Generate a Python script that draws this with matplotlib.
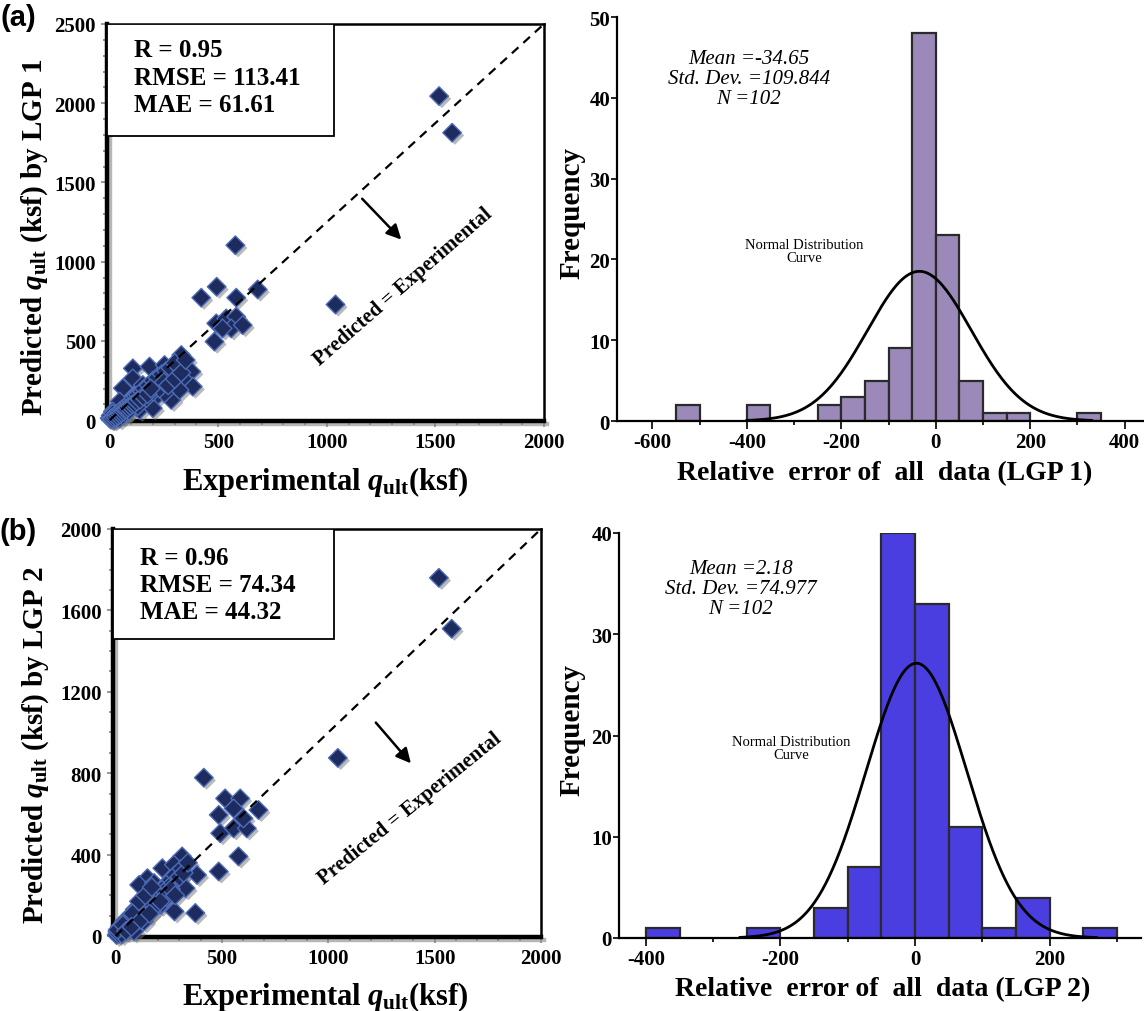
import numpy as np
import matplotlib
matplotlib.use('Agg')
import matplotlib.pyplot as plt
import matplotlib.patheffects as pe
from matplotlib.patches import Rectangle
from matplotlib.ticker import MultipleLocator

plt.rcParams['font.family'] = 'Liberation Serif'
plt.rcParams['axes.unicode_minus'] = False
plt.rcParams['mathtext.fontset'] = 'custom'
plt.rcParams['mathtext.rm'] = 'Liberation Serif:bold'
plt.rcParams['mathtext.it'] = 'Liberation Serif:italic:bold'
plt.rcParams['mathtext.bf'] = 'Liberation Serif:bold'

# ---------------- data ----------------
# LGP 1 : experimental vs predicted (ksf)
exp_1 = [1517, 1577, 1040,
         579, 493, 422, 583, 682, 491, 537, 583, 560, 613, 483, 520,
         107, 184, 253, 330, 376, 383, 107, 61, 153, 222, 284, 337, 215, 284,
         169, 107, 46, 322, 253, 138, 199, 84, 15, 0, 46,
         10, 20, 30, 40, 50, 60, 70, 80, 90, 100, 110, 120, 130, 150, 160, 180,
         200, 220, 240, 260, 280, 300,
         60, 90, 130, 170, 200, 230, 250, 270, 300, 330, 350, 20, 35, 5, 15, 25,
         5, 8, 12, 18, 25, 28, 33, 38, 45, 48, 55, 65, 72, 78, 85, 95, 105, 115,
         125, 140, 155, 175, 190]
pred_1 = [2045, 1814, 730,
          1104, 842, 773, 773, 825, 611, 642, 653, 579, 600, 496, 579,
          327, 338, 348, 411, 307, 212, 264, 202, 222, 222, 244, 264, 149, 128,
          118, 128, 118, 191, 170, 65, 76, 55, 55, 13, 13,
          10, 25, 35, 45, 60, 70, 80, 95, 110, 120, 140, 150, 160, 180, 200, 220,
          250, 270, 290, 310, 330, 360,
          30, 60, 90, 140, 180, 200, 240, 220, 260, 300, 380, 5, 20, 30, 40, 15,
          5, 12, 8, 18, 30, 22, 40, 30, 50, 38, 48, 55, 65, 70, 80, 90, 100, 105,
          120, 130, 150, 165, 200]

# LGP 2 : experimental vs predicted (ksf)
exp_2 = [1520, 1580, 1045,
         415, 515, 586, 485, 555, 672, 492, 555, 617, 601, 578, 485, 375, 277,
         383, 313, 150, 220, 274, 111, 181, 243, 290, 196, 251, 329, 150, 212,
         103, 72, 134, 41, 9, 87,
         5, 10, 15, 20, 25, 30, 35, 40, 45, 50, 55, 60, 65, 70, 75, 80, 90, 95,
         100, 110, 120, 130, 140, 150, 160, 170, 180, 190, 200, 210, 220, 230,
         240, 250, 260, 270, 280, 300, 310, 320, 340,
         30, 60, 100, 130, 170, 200, 240, 260, 280, 60, 90, 110, 140, 170,
         20, 45, 80, 10, 35, 50, 75, 120, 160, 210]
pred_2 = [1760, 1510, 875,
          778, 676, 676, 595, 627, 619, 505, 529, 529, 578, 391, 317, 113, 121,
          300, 391, 284, 333, 350, 251, 260, 260, 284, 202, 202, 235, 170, 153,
          137, 104, 72, 72, 23, 23,
          5, 15, 10, 25, 20, 35, 30, 45, 40, 55, 50, 65, 60, 75, 70, 85, 95, 90,
          110, 100, 125, 120, 150, 140, 170, 160, 190, 180, 210, 200, 230, 220,
          250, 240, 275, 260, 300, 290, 330, 310, 360,
          10, 40, 70, 95, 120, 160, 190, 230, 200, 90, 130, 170, 200, 240,
          45, 75, 110, 30, 55, 25, 45, 80, 110, 170]

stats_1 = ['R = 0.95', 'RMSE = 113.41', 'MAE = 61.61']
stats_2 = ['R = 0.96', 'RMSE = 74.34', 'MAE = 44.32']

# histograms of relative error, bin width 50
bin_w = 50
bins_1 = [-550, -400, -250, -200, -150, -100, -50, 0, 50, 100, 150, 300]
freq_1 = [2, 2, 2, 3, 5, 9, 48, 23, 5, 1, 1, 1]
bins_2 = [-400, -250, -150, -100, -50, 0, 50, 100, 150, 250]
freq_2 = [1, 1, 3, 7, 40, 33, 11, 1, 4, 1]
mean_1, std_1, n_1 = -34.65, 109.844, 102
mean_2, std_2, n_2 = 2.18, 74.977, 102

W, H = 1144, 1012
fig = plt.figure(figsize=(W / 100, H / 100), dpi=100)


def fig_rect(l, t, r, b):
    return [l / W, 1 - b / H, (r - l) / W, (b - t) / H]


def scatter_panel(rect, xs, ys, ymax, ytick, stats, box_w, box_b, text_y, label,
                  arrow, txt_xy, txt_rot, ylab_xy, xlab_xy):
    ax = fig.add_axes(rect)
    sc = ax.scatter(xs, ys, marker='D', s=90, facecolor='#1d2b5e',
                    edgecolor='#4d6cb5', linewidth=1.0, zorder=3, clip_on=False)
    sc.set_path_effects([pe.SimplePatchShadow(offset=(2, -2), shadow_rgbFace='#777777', alpha=0.5),
                         pe.Normal()])
    ax.plot([0, 2000], [0, ymax], ls=(0, (4, 3)), color='black', lw=1.6, zorder=4)
    ax.set_xlim(-12, 2000)
    ax.set_ylim(-5, ymax)
    ax.xaxis.set_major_locator(MultipleLocator(500))
    ax.xaxis.set_minor_locator(MultipleLocator(100))
    ax.yaxis.set_major_locator(MultipleLocator(ytick))
    ax.yaxis.set_minor_locator(MultipleLocator(100))
    ax.tick_params(which='both', direction='out', color='#888888', width=1.2)
    ax.tick_params(which='major', length=4, labelsize=15, pad=4)
    ax.tick_params(which='minor', length=3)
    for t in ax.get_xticklabels() + ax.get_yticklabels():
        t.set_fontweight('bold')
    for s in ['left', 'bottom']:
        ax.spines[s].set_linewidth(3.2)
        ax.spines[s].set_path_effects([pe.SimpleLineShadow(offset=(2, -2), shadow_color='#888888', alpha=0.6),
                                       pe.Normal()])
    for s in ['top', 'right']:
        ax.spines[s].set_linewidth(1.8)
    ax.add_patch(Rectangle((0, box_b), box_w, 1 - box_b, transform=ax.transAxes,
                           facecolor='white', edgecolor='black', lw=1.3, zorder=5))
    for s, ty in zip(stats, text_y):
        ax.text(0.062, ty, s, transform=ax.transAxes, fontsize=18, fontweight='bold',
                va='center', ha='left', zorder=6)
    ax.annotate('', xy=arrow[1], xytext=arrow[0],
                arrowprops=dict(arrowstyle='-|>', color='black', lw=1.8,
                                mutation_scale=22), zorder=6)
    ax.text(txt_xy[0], txt_xy[1], 'Predicted = Experimental', rotation=txt_rot,
            fontsize=15, fontweight='bold', ha='center', va='center', zorder=6)
    ax.set_ylabel(r'Predicted $q_{\mathbf{ult}}$ (ksf) by ' + label,
                  fontsize=21, fontweight='bold')
    ax.yaxis.set_label_coords(*ylab_xy)
    ax.set_xlabel(r'Experimental $q_{\mathbf{ult}}$(ksf)', fontsize=22, fontweight='bold')
    ax.xaxis.set_label_coords(*xlab_xy)
    return ax


def hist_panel(rect, lefts, freqs, mean, std, n, color, xlim, ylim, xcurve,
               stats_xy, norm_xy, label, ylab_xy, xlab_xy):
    ax = fig.add_axes(rect)
    ax.bar(lefts, freqs, width=bin_w, align='edge', color=color,
           edgecolor='#2a2a2a', linewidth=1.6, zorder=2)
    xc = np.linspace(xcurve[0], xcurve[1], 400)
    yc = n * bin_w / (std * np.sqrt(2 * np.pi)) * np.exp(-0.5 * ((xc - mean) / std) ** 2)
    ax.plot(xc, yc, color='black', lw=2.0, zorder=3)
    ax.set_xlim(*xlim)
    ax.set_ylim(*ylim)
    ax.xaxis.set_major_locator(MultipleLocator(200))
    ax.xaxis.set_minor_locator(MultipleLocator(100))
    ax.yaxis.set_major_locator(MultipleLocator(10))
    for s in ['top', 'right']:
        ax.spines[s].set_visible(False)
    for s in ['left', 'bottom']:
        ax.spines[s].set_linewidth(1.6)
        ax.spines[s].set_zorder(4)
    ax.tick_params(which='both', direction='out', width=1.4, color='#222222')
    ax.tick_params(axis='x', which='major', length=6, labelsize=15, pad=2)
    ax.tick_params(axis='y', which='major', length=4, labelsize=15, pad=1)
    ax.tick_params(which='minor', length=3)
    for t in ax.get_xticklabels() + ax.get_yticklabels():
        t.set_fontweight('bold')
    ax.text(stats_xy[0], stats_xy[1],
            'Mean =%s\nStd. Dev. =%s\nN =%d' % (('%.2f' % mean), ('%.3f' % std), n),
            transform=ax.transAxes, fontsize=15, style='italic', ha='center',
            va='top', linespacing=1.05)
    ax.text(norm_xy[0], norm_xy[1], 'Normal Distribution\nCurve', transform=ax.transAxes,
            fontsize=10.5, ha='center', va='center', linespacing=1.0)
    ax.set_ylabel('Frequency', fontsize=21, fontweight='bold')
    ax.yaxis.set_label_coords(*ylab_xy)
    ax.set_xlabel('Relative  error of  all  data (%s)' % label, fontsize=20, fontweight='bold')
    ax.xaxis.set_label_coords(*xlab_xy)
    return ax


scatter_panel(fig_rect(107, 25, 544, 422), exp_1, pred_1, 2500, 500, stats_1,
              0.519, 0.718, [0.935, 0.866, 0.796], 'LGP 1',
              [(1154, 1410), (1352, 1127)], (1350, 843), 41,
              (-0.130, 0.466), (0.499, -0.108))
scatter_panel(fig_rect(113, 530, 541, 938), exp_2, pred_2, 2000, 400, stats_2,
              0.516, 0.730, [0.931, 0.865, 0.799], 'LGP 2',
              [(1215, 1059), (1397, 838)], (1383, 627), 39,
              (-0.144, 0.473), (0.495, -0.103))

hist_panel(fig_rect(617, 18, 1144, 422), bins_1, freq_1, mean_1, std_1, n_1, '#9b8ab9',
           (-675, 441), (0, 50), (-400, 330), (0.25, 0.92), (0.355, 0.42), 'LGP 1',
           (-0.060, 0.517), (0.507, -0.098))
hist_panel(fig_rect(619, 534, 1141, 939), bins_2, freq_2, mean_2, std_2, n_2, '#4b3ee0',
           (-440, 336), (0, 40), (-260, 270), (0.233, 0.935), (0.33, 0.47), 'LGP 2',
           (-0.064, 0.516), (0.506, -0.094))

fig.text(18 / W, 1 - 18 / H, '(a)', fontsize=21, fontweight='bold',
         family='Liberation Sans', ha='center', va='center')
fig.text(18 / W, 1 - 532 / H, '(b)', fontsize=21, fontweight='bold',
         family='Liberation Sans', ha='center', va='center')

fig.savefig('out.png', dpi=100)
